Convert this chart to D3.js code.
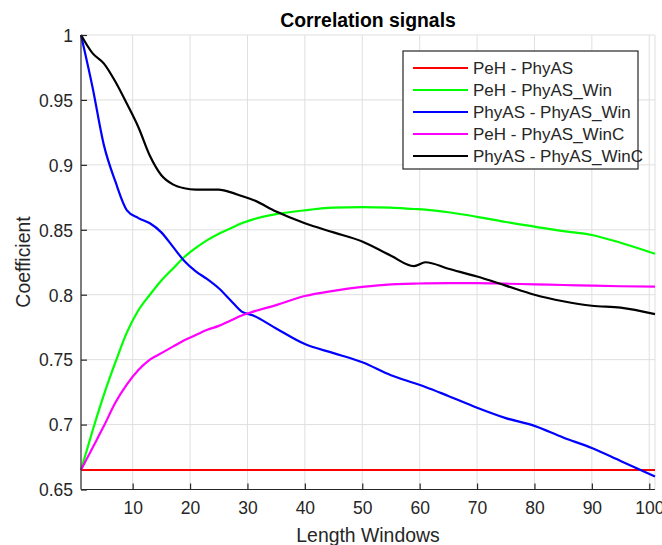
<!DOCTYPE html>
<html>
<head>
<meta charset="utf-8">
<script src="https://cdn.jsdelivr.net/npm/d3@7"></script>
<style>
  body { margin: 0; background: #fff; }
  svg text { font-family: "Liberation Sans", Arial, Helvetica, sans-serif; }
</style>
</head>
<body>
<svg id="chart" width="662" height="545"></svg>
<script>
var lengths = [1, 3, 5, 7, 9, 11, 13, 15, 17, 19, 21, 23, 25, 27, 29, 31, 35, 40, 45, 50, 55, 59, 61, 65, 70, 75, 80, 85, 90, 95, 101];

var pehPhyAS = [0.665, 0.665, 0.665, 0.665, 0.665, 0.665, 0.665, 0.665, 0.665, 0.665, 0.665, 0.665, 0.665, 0.665, 0.665, 0.665,
  0.665, 0.665, 0.665, 0.665, 0.665, 0.665, 0.665, 0.665, 0.665, 0.665, 0.665, 0.665, 0.665, 0.665, 0.665];

var pehPhyASWin = [0.665, 0.695, 0.723, 0.748, 0.771, 0.788, 0.800, 0.811, 0.820, 0.829, 0.836, 0.842, 0.847, 0.851, 0.855, 0.858,
  0.862, 0.865, 0.867, 0.8675, 0.867, 0.866, 0.8655, 0.8635, 0.860, 0.856, 0.8525, 0.849, 0.846, 0.840, 0.8315];

var phyASPhyASWin = [1.0, 0.960, 0.915, 0.887, 0.865, 0.859, 0.855, 0.848, 0.837, 0.826, 0.818, 0.812, 0.805, 0.796, 0.787, 0.784,
  0.774, 0.762, 0.755, 0.748, 0.738, 0.732, 0.729, 0.722, 0.713, 0.705, 0.699, 0.690, 0.682, 0.672, 0.660];

var pehPhyASWinC = [0.665, 0.682, 0.699, 0.717, 0.731, 0.742, 0.750, 0.755, 0.760, 0.765, 0.769, 0.773, 0.776, 0.780, 0.784, 0.787,
  0.792, 0.799, 0.803, 0.806, 0.808, 0.8085, 0.8088, 0.809, 0.809, 0.8085, 0.808, 0.8075, 0.807, 0.8065, 0.8062];

var phyASPhyASWinC = [1.0, 0.986, 0.978, 0.964, 0.947, 0.929, 0.907, 0.892, 0.885, 0.882, 0.881, 0.881, 0.881, 0.879, 0.876, 0.873,
  0.864, 0.855, 0.848, 0.841, 0.830, 0.822, 0.825, 0.820, 0.814, 0.807, 0.800, 0.795, 0.7915, 0.790, 0.785];

var seriesNames = ['PeH - PhyAS', 'PeH - PhyAS_Win', 'PhyAS - PhyAS_Win', 'PeH - PhyAS_WinC', 'PhyAS - PhyAS_WinC'];
var seriesColors = ['#ff0000', '#00ff00', '#0000ff', '#ff00ff', '#000000'];
var seriesValues = [pehPhyAS, pehPhyASWin, phyASPhyASWin, pehPhyASWinC, phyASPhyASWinC];

var xTicks = [10, 20, 30, 40, 50, 60, 70, 80, 90, 100];
var yTicks = [0.65, 0.7, 0.75, 0.8, 0.85, 0.9, 0.95, 1];

(function() {
  var svg = d3.select('#chart');
  var plotLeft = 81, plotRight = 655, plotTop = 35, plotBottom = 489.5;
  var axisColor = '#262626', gridColor = '#dfdfdf';

  var x = d3.scaleLinear().domain([1, 101]).range([plotLeft, plotRight]);
  var y = d3.scaleLinear().domain([0.65, 1]).range([plotBottom, plotTop]);

  //grid
  var grid = svg.append('g');
  grid.selectAll('line.gx').data(xTicks).enter().append('line')
    .attr('x1', function(d) { return x(d); }).attr('x2', function(d) { return x(d); })
    .attr('y1', plotTop).attr('y2', plotBottom)
    .attr('stroke', gridColor).attr('stroke-width', 1);
  grid.selectAll('line.gy').data(yTicks).enter().append('line')
    .attr('x1', plotLeft).attr('x2', plotRight)
    .attr('y1', function(d) { return y(d); }).attr('y2', function(d) { return y(d); })
    .attr('stroke', gridColor).attr('stroke-width', 1);
  // light box edge on the right
  grid.append('line').attr('x1', plotRight).attr('x2', plotRight).attr('y1', plotTop).attr('y2', plotBottom)
    .attr('stroke', gridColor);

  //series
  var line = d3.line()
    .curve(d3.curveMonotoneX)
    .x(function(d) { return x(d[0]); })
    .y(function(d) { return y(d[1]); });

  seriesValues.forEach(function(vals, i) {
    svg.append('path')
      .datum(d3.zip(lengths, vals))
      .attr('d', line)
      .attr('fill', 'none')
      .attr('stroke', seriesColors[i])
      .attr('stroke-width', 2.2)
      .attr('stroke-linejoin', 'round');
  });

  //axes
  var fmt = function(d) { return String(+d.toFixed(2)); };

  var xAxis = svg.append('g')
    .attr('transform', 'translate(0,' + plotBottom + ')')
    .call(d3.axisBottom(x).tickValues(xTicks).tickSize(-6).tickPadding(12).tickFormat(fmt));
  xAxis.select('.domain').attr('d', 'M' + plotLeft + ',0H' + plotRight);

  var yAxis = svg.append('g')
    .attr('transform', 'translate(' + plotLeft + ',0)')
    .call(d3.axisLeft(y).tickValues(yTicks).tickSize(-6).tickPadding(8).tickFormat(fmt));
  yAxis.select('.domain').attr('d', 'M0,' + plotTop + 'V' + plotBottom);

  [xAxis, yAxis].forEach(function(a) {
    a.select('.domain').attr('stroke', axisColor).attr('stroke-width', 1.2);
    a.selectAll('.tick line').attr('stroke', axisColor).attr('stroke-width', 1.2);
    a.selectAll('.tick text')
      .attr('fill', axisColor)
      .style('font-size', '17.5px')
      .style('font-family', '"Liberation Sans", Arial, sans-serif');
  });
  yAxis.selectAll('.tick text').attr('dy', '0.36em');

  //labels
  svg.append('text')
    .attr('x', 368).attr('y', 27)
    .attr('text-anchor', 'middle')
    .style('font-size', '19.4px').style('font-weight', 'bold')
    .attr('fill', '#000')
    .text('Correlation signals');

  svg.append('text')
    .attr('x', 368).attr('y', 542)
    .attr('text-anchor', 'middle')
    .style('font-size', '19.4px')
    .attr('fill', axisColor)
    .text('Length Windows');

  svg.append('text')
    .attr('transform', 'translate(30,262) rotate(-90)')
    .attr('text-anchor', 'middle')
    .style('font-size', '19.4px')
    .attr('fill', axisColor)
    .text('Coefficient');

  //legend
  var legend = svg.append('g');
  legend.append('rect')
    .attr('x', 403).attr('y', 51).attr('width', 235).attr('height', 118)
    .attr('fill', '#fff').attr('stroke', axisColor).attr('stroke-width', 1.2);

  var rowY = d3.scalePoint().domain(seriesNames).range([68, 156]);
  var rows = legend.selectAll('g.row').data(seriesNames).enter().append('g')
    .attr('transform', function(d) { return 'translate(0,' + rowY(d) + ')'; });
  rows.append('line')
    .attr('x1', 413).attr('x2', 468)
    .attr('stroke', function(d, i) { return seriesColors[i]; })
    .attr('stroke-width', 2.2);
  rows.append('text')
    .attr('x', 473).attr('dy', '0.36em')
    .style('font-size', '17px')
    .attr('fill', axisColor)
    .text(function(d) { return d; });
})();
</script>
</body>
</html>
